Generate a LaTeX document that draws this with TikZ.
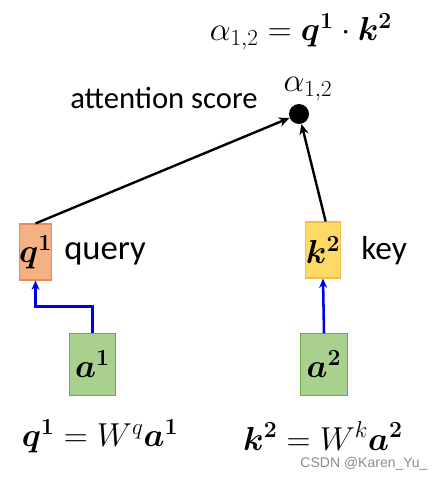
\documentclass[tikz,border=0pt]{standalone}
\usepackage{fontspec}
\setmainfont{Carlito}
\newfontfamily\markfont{Liberation Sans}
\usepackage{amsmath}
\usepackage{bm}
\usetikzlibrary{arrows.meta}
\definecolor{qfill}{RGB}{244,177,131}
\definecolor{qline}{RGB}{230,140,90}
\definecolor{kfill}{RGB}{255,217,102}
\definecolor{kline}{RGB}{240,190,80}
\definecolor{afill}{RGB}{169,209,142}
\definecolor{aline}{RGB}{112,173,71}
\tikzset{
  vecbox/.style={draw, line width=0.8pt, inner sep=0pt, font=\fontsize{25}{29}\selectfont},
  smallvec/.style={vecbox, minimum width=23pt, minimum height=42pt},
  inputvec/.style={vecbox, fill=afill, draw=aline, minimum width=35pt, minimum height=46pt},
  label/.style={inner sep=0.75pt, font=\fontsize{23}{27}\selectfont},
  proj/.style={draw={rgb,255:red,0;green,0;blue,230}, line width=1.9pt, -{Stealth[length=7pt,width=6pt]}},
  score/.style={line width=1.8pt, -{Stealth[length=8pt,width=7pt]}}
}
\begin{document}
\begin{tikzpicture}[x=0.75pt,y=0.75pt,yscale=-1,xscale=1]
\useasboundingbox (0,0) rectangle (442,481);
% vectors
\node [smallvec, fill=qfill, draw=qline] (q1) at (35.5,252) {$\bm{q}^{\bm{1}}$};
\node [smallvec, fill=kfill, draw=kline] (k2) at (323,250) {$\bm{k}^{\bm{2}}$};
\node [inputvec] (a1) at (92.5,364.5) {$\bm{a}^{\bm{1}}$};
\node [inputvec] (a2) at (324,364.5) {$\bm{a}^{\bm{2}}$};
\node [circle, fill=black, minimum size=15pt, inner sep=0pt] (dot) at (299,114) {};
% texts
\node [label, anchor=west, font=\fontsize{26}{30}\selectfont] (query) at (63,254) {query};
\node [label, anchor=west, font=\fontsize{25}{29}\selectfont] (key) at (360,251) {key};
\node [label] (attn) at (164,98) {attention score};
\node [label] (alpha) at (308,89) {$\alpha_{1,2}$};
\node [label, font=\fontsize{24.5}{29}\selectfont] (score) at (301,32) {$\alpha_{1,2}=\bm{q}^{\bm{1}}\cdot\bm{k}^{\bm{2}}$};
\node [label, inner sep=0pt, font=\fontsize{25.5}{29}\selectfont] (qeq) at (100,436) {$\bm{q}^{\bm{1}}=W^{q}\bm{a}^{\bm{1}}$};
\node [label, inner sep=0pt, font=\fontsize{25.5}{29}\selectfont] (keq) at (323,436) {$\bm{k}^{\bm{2}}=W^{k}\bm{a}^{\bm{2}}$};
\node [inner sep=0pt, text=black!45, font=\markfont\fontsize{10.5}{12}\selectfont] (mark) at (364,464) {CSDN @Karen\_Yu\_};
% arrows
\draw [proj] (a1.north) -- ++(0,-27) -| (q1.south);
\draw [proj] (a2.north) -- (k2.south);
\draw [score] (q1.north) -- (dot);
\draw [score] ([xshift=2pt]k2.north) -- (dot);
\end{tikzpicture}
\end{document}
